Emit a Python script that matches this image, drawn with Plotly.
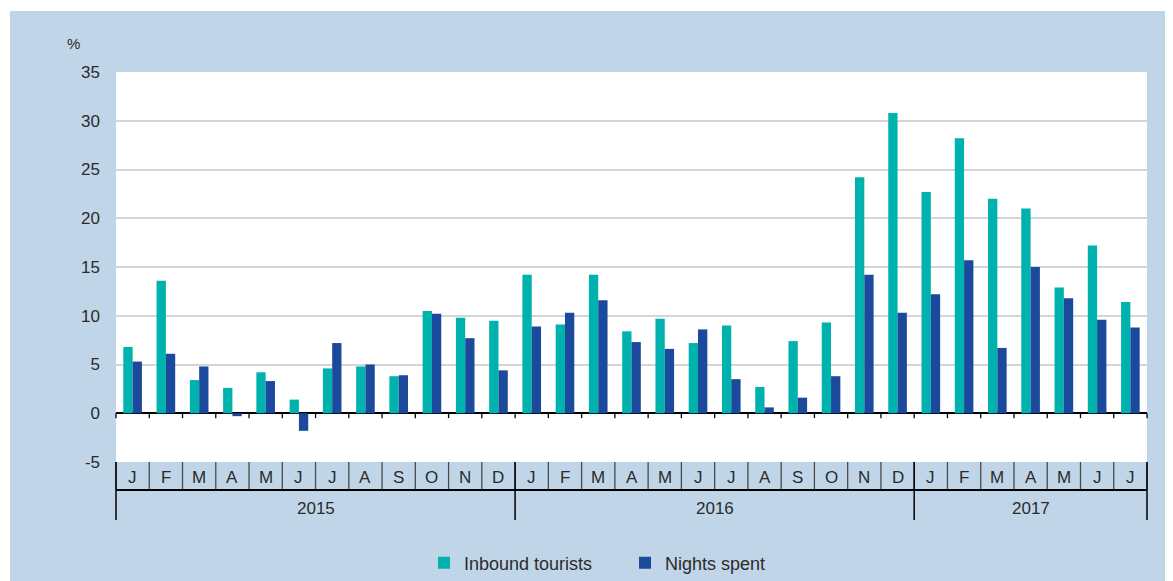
import plotly.graph_objects as go

months = ["J", "F", "M", "A", "M", "J", "J", "A", "S", "O", "N", "D",
          "J", "F", "M", "A", "M", "J", "J", "A", "S", "O", "N", "D",
          "J", "F", "M", "A", "M", "J", "J"]
years = ["2015", "2016", "2017"]
year_counts = [12, 12, 7]

inbound = [6.8, 13.6, 3.4, 2.6, 4.2, 1.4, 4.6, 4.8, 3.8, 10.5, 9.8, 9.5,
           14.2, 9.1, 14.2, 8.4, 9.7, 7.2, 9.0, 2.7, 7.4, 9.3, 24.2, 30.8,
           22.7, 28.2, 22.0, 21.0, 12.9, 17.2, 11.4]
nights = [5.3, 6.1, 4.8, -0.3, 3.3, -1.8, 7.2, 5.0, 3.9, 10.2, 7.7, 4.4,
          8.9, 10.3, 11.6, 7.3, 6.6, 8.6, 3.5, 0.6, 1.6, 3.8, 14.2, 10.3,
          12.2, 15.7, 6.7, 15.0, 11.8, 9.6, 8.8]
ytick_vals = [-5, 0, 5, 10, 15, 20, 25, 30, 35]
ytick_text = ["-5", "0", "5", "10", "15", "20", "25", "30", "35"]

TEAL = "#00B2AD"
NAVY = "#1B4A9C"
BG = "#C0D6E8"
TXT = "#2b2b2b"
FONT = "Liberation Sans, Arial, sans-serif"

OFF = 8  # page body margin
W, H = 1173 - OFF, 581 - OFF
# plot area in page pixels: x 116..1147, y 72..462
L = 116 - OFF
T = 72 - OFF
R = W - (1147 - OFF)
B = H - (462 - OFF)
PW, PH = W - L - R, H - T - B

def px_x(x):
    return (x - OFF - L) / PW

def px_y(y):
    return (H - B - (y - OFF)) / PH

n = len(months)
xs = list(range(n))

fig = go.Figure()
fig.add_trace(go.Bar(x=xs, y=inbound, name="Inbound tourists",
                     marker=dict(color=TEAL, line=dict(width=0))))
fig.add_trace(go.Bar(x=xs, y=nights, name="Nights spent",
                     marker=dict(color=NAVY, line=dict(width=0))))

shapes = []
# white strips at top and left of the image
shapes.append(dict(type="rect", xref="paper", yref="paper", layer="below",
                   x0=px_x(-20), x1=px_x(1200), y0=px_y(11), y1=px_y(-20),
                   fillcolor="white", line=dict(width=0)))
shapes.append(dict(type="rect", xref="paper", yref="paper", layer="below",
                   x0=px_x(-20), x1=px_x(10), y0=px_y(600), y1=px_y(-20),
                   fillcolor="white", line=dict(width=0)))

# ticks on zero line at category boundaries
for k in range(n + 1):
    shapes.append(dict(type="line", xref="paper", yref="y",
                       x0=k / n, x1=k / n, y0=0, y1=-0.5,
                       line=dict(color="black", width=1.3)))

# month row separators
for k in range(n + 1):
    shapes.append(dict(type="line", xref="paper", yref="paper",
                       x0=k / n, x1=k / n, y0=0, y1=px_y(490),
                       line=dict(color="#4a4a4a", width=1.3)))

# horizontal line between month and year rows
shapes.append(dict(type="line", xref="paper", yref="paper",
                   x0=0, x1=1, y0=px_y(490), y1=px_y(490),
                   line=dict(color="black", width=2)))

# year separators
bounds = [0]
for c in year_counts:
    bounds.append(bounds[-1] + c)
for b in bounds:
    shapes.append(dict(type="line", xref="paper", yref="paper",
                       x0=b / n, x1=b / n, y0=0, y1=px_y(520),
                       line=dict(color="black", width=1.5)))

annotations = []
for i, m in enumerate(months):
    annotations.append(dict(x=i, xref="x", y=px_y(477), yref="paper",
                            text=m, showarrow=False, xanchor="center",
                            yanchor="middle",
                            font=dict(size=17, color=TXT, family=FONT)))
for j, yr in enumerate(years):
    center = (bounds[j] + bounds[j + 1] - 1) / 2
    annotations.append(dict(x=center, xref="x", y=px_y(508), yref="paper",
                            text=yr, showarrow=False, xanchor="center",
                            yanchor="middle",
                            font=dict(size=17, color=TXT, family=FONT)))
annotations.append(dict(x=px_x(73), xref="paper", y=px_y(43), yref="paper",
                        text="%", showarrow=False, xanchor="center",
                        yanchor="middle",
                        font=dict(size=15, color=TXT, family=FONT)))

fig.update_layout(
    width=W, height=H,
    margin=dict(l=L, r=R, t=T, b=B, pad=0, autoexpand=False),
    paper_bgcolor=BG,
    plot_bgcolor="white",
    barmode="group",
    bargap=0.44,
    bargroupgap=0,
    showlegend=True,
    legend=dict(orientation="h", x=px_x(424), xanchor="left",
                y=px_y(563), yanchor="middle",
                bgcolor="rgba(0,0,0,0)",
                entrywidth=156, entrywidthmode="pixels",
                itemwidth=30,
                font=dict(size=18, color=TXT, family=FONT)),
    xaxis=dict(range=[-0.5, n - 0.5], showgrid=False, zeroline=False,
               showticklabels=False, ticks="", showline=False, fixedrange=True),
    yaxis=dict(range=[-5, 35], tickvals=ytick_vals, ticktext=ytick_text,
               showgrid=True, gridcolor="#d3d6d9", gridwidth=1.5,
               zeroline=True, zerolinecolor="black", zerolinewidth=1.5,
               showline=False, ticks="", ticklabelstandoff=15,
               tickfont=dict(size=17, color=TXT, family=FONT)),
    shapes=shapes,
    annotations=annotations,
    font=dict(family=FONT, color=TXT),
)

fig.write_html("out.html")
